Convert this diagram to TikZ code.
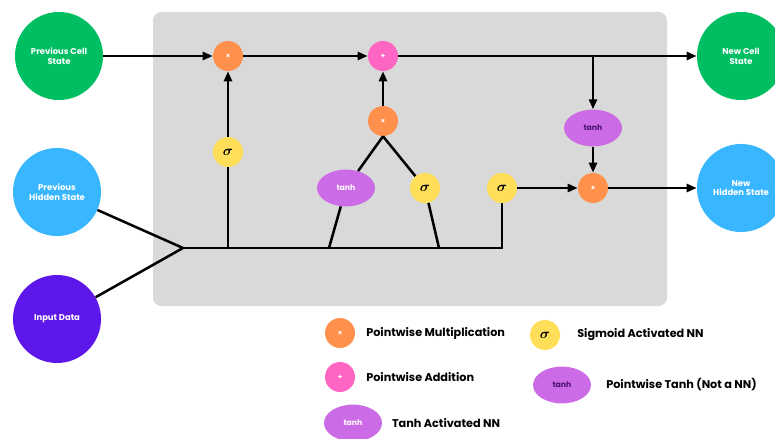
\documentclass[tikz,border=0pt]{standalone}
\usepackage{fontspec}
\setmainfont{Poppins}
\usepackage{amsmath, amssymb}
\usetikzlibrary{positioning, arrows.meta, calc, shapes.geometric}
\definecolor{cellgreen}{HTML}{00BF63}
\definecolor{hidblue}{HTML}{38B6FF}
\definecolor{inpurple}{HTML}{5E17EB}
\definecolor{boxgray}{HTML}{D9D9D9}
\definecolor{oporange}{HTML}{FF914D}
\definecolor{oppink}{HTML}{FF66C4}
\definecolor{sigyellow}{HTML}{FFDE59}
\definecolor{tanhpurple}{HTML}{CB6CE6}
\definecolor{tanhtext}{HTML}{4A1070}

\begin{document}
\begin{tikzpicture}[x=0.025cm, y=-0.025cm,
        every node/.style={font=\bfseries\fontsize{6}{7}\selectfont},
        state/.style={circle, minimum size=2.2cm, inner sep=1pt,
          text=white, align=center},
        op/.style={circle, minimum size=0.75cm, inner sep=0pt, text=white,
          font=\bfseries\fontsize{5}{5}\selectfont},
        gate/.style={circle, fill=sigyellow, minimum size=0.75cm, inner sep=0pt,
          font=\fontsize{10}{10}\selectfont},
        nn/.style={ellipse, fill=tanhpurple, minimum width=1.45cm,
          minimum height=0.92cm, inner sep=0pt, text=white,
          font=\bfseries\fontsize{5.5}{6}\selectfont},
        legtext/.style={anchor=west, font=\bfseries\fontsize{8}{9}\selectfont},
        ln/.style={line width=1.8pt},
        arr/.style={-{Triangle[length=2.5mm, width=2mm]}, line width=1.8pt}]
      \useasboundingbox (0,0) rectangle (775,439);
      \fill[boxgray, rounded corners=6pt] (153,12) rectangle (667,306);

      % inputs and outputs
      \node[state, fill=cellgreen] (pcs) at (59,56) {Previous Cell\\State};
      \node[state, fill=hidblue] (phs) at (57,192) {Previous\\Hidden State};
      \node[state, fill=inpurple] (inp) at (57,319) {Input Data};
      \node[state, fill=cellgreen] (ncs) at (741,56) {New Cell\\State};
      \node[state, fill=hidblue] (nhs) at (741,188) {New\\Hidden State};

      % gates
      \node[op, fill=oporange] (fmul) at (228,56) {\texttimes};
      \node[op, fill=oppink] (add) at (383,56) {+};
      \node[op, fill=oporange] (imul) at (383,121) {\texttimes};
      \node[gate] (fsig) at (228,152) {$\boldsymbol{\sigma}$};
      \node[nn] (itanh) at (346,188) {tanh};
      \node[gate] (isig) at (425,188) {$\boldsymbol{\sigma}$};
      \node[gate] (osig) at (502,188) {$\boldsymbol{\sigma}$};
      \node[nn, text=tanhtext] (ctanh) at (593,128) {tanh};
      \node[op, fill=oporange] (omul) at (593,188) {\texttimes};

      \coordinate (j) at (183,248);
      \coordinate (bf) at (228,248);
      \coordinate (bt) at (329,248);
      \coordinate (bi) at (439,248);
      \coordinate (bo) at (502,248);
      \coordinate (br) at (593,56);

      % cell state path
      \draw[arr] (pcs) -- (fmul);
      \draw[arr] (fmul) -- (add);
      \draw[arr] (add) -- (ncs);
      \draw[arr] (br) -- (ctanh);
      \draw[arr] (ctanh) -- (omul);

      % hidden state and input
      \draw[ln] (phs) -- (j);
      \draw[ln] (inp) -- (j);
      \draw[ln] (j) -- (bo) -- (osig);
      \draw[ln] (bf) -- (fsig);
      \draw[arr] (fsig) -- (fmul);
      \draw[ln] (bt) -- (itanh);
      \draw[ln] (bi) -- (isig);
      \draw[ln] (itanh) -- (imul.south);
      \draw[ln] (isig) -- (imul.south);
      \draw[arr] (imul) -- (add);
      \draw[arr] (osig) -- (omul);
      \draw[arr] (omul) -- (nhs);

      % legend
      \node[op, fill=oporange] (lmul) at (340,333) {\texttimes};
      \node[legtext, right=0.15cm of lmul] (lmultxt) {Pointwise Multiplication};
      \node[op, fill=oppink] (ladd) at (340,377) {+};
      \node[legtext, right=0.15cm of ladd] (laddtxt) {Pointwise Addition};
      \node[nn] (lnn) at (353,423) {tanh};
      \node[legtext, right=0.12cm of lnn] (lnntxt) {Tanh Activated NN};
      \node[gate] (lsig) at (545,335) {$\boldsymbol{\sigma}$};
      \node[legtext, right=0.3cm of lsig] (lsigtxt) {Sigmoid Activated NN};
      \node[nn, text=tanhtext] (lpt) at (562,385) {tanh};
      \node[legtext, right=0.25cm of lpt] (lpttxt) {Pointwise Tanh (Not a NN)};
    \end{tikzpicture}
\end{document}
